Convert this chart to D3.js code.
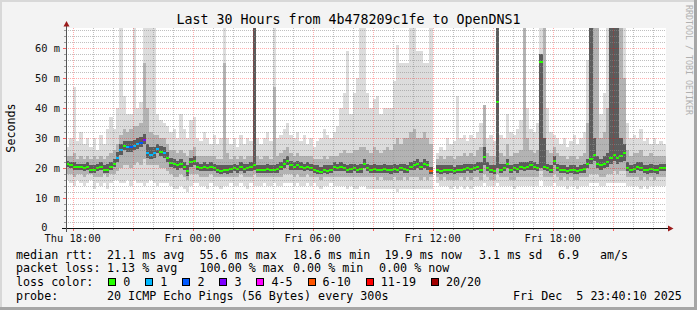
<!DOCTYPE html>
<html>
<head>
<meta charset="utf-8">
<script src="https://cdn.jsdelivr.net/npm/d3@7"></script>
<style>
body{margin:0;background:#f3f3f3}
svg{display:block}
text{font-family:"DejaVu Sans Mono",monospace;white-space:pre}
</style>
</head>
<body>
<script>
// 10 minute steps from Thu 17:40:10 to Fri 23:40:10 (ms values)
var med=[
21.5,21.0,20.5,20.5,20.5,20.0,20.5,19.5,19.3,20.0, 20.5,19.5,19.3,20.5,21.5,23.5,26.0,27.5,27.0,27.0,
27.5,28.0,28.5,29.5,25.0,24.5,25.0,26.5,25.5,25.0, 23.5,21.7,21.5,21.0,21.5,20.5,19.0,22.0,22.5,20.5,
20.0,20.4,20.0,20.4,20.0,19.3,19.0,19.5,19.3,19.7, 20.0,19.8,20.4,19.8,20.0,20.4,21.0,19.5,19.5,19.5,
19.8,19.5,19.5,19.8,20.5,21.5,22.5,21.0,20.5,21.0, 20.5,20.0,20.5,20.0,19.5,19.0,18.8,19.5,19.0,19.5,
20.4,20.0,20.4,20.0,19.5,19.8,20.0,19.5,19.8,21.5, 20.0,19.5,19.8,19.5,19.5,19.8,19.5,19.3,19.8,19.5,
20.0,19.8,19.5,20.5,21.0,21.5,20.5,21.5,21.0,19.0, null,19.5,19.0,19.5,19.3,19.5,19.0,19.5,19.5,19.8,
20.0,19.8,20.0,20.5,19.5,23.8,20.0,19.5,19.0,42.0, 19.5,20.0,21.5,19.5,20.0,19.8,20.5,20.0,20.5,21.0,
20.5,20.0,55.4,20.5,20.0,19.5,22.5,20.0,19.5,19.3, 19.0,19.5,19.3,19.0,19.5,19.8,21.5,23.0,24.3,21.5,
21.0,21.5,22.0,23.5,24.5,23.5,24.0,25.0,20.0,19.5, 19.8,20.5,20.0,19.5,19.3,19.8,19.5,19.3,20.0,20.0];
// lost pings out of 20 per step
var loss=[
0,0,0,0,0,0,0,0,0,0, 0,0,0,0,0,1,1,0,1,2,
1,1,2,3,1,1,1,1,0,1, 0,0,0,0,0,0,0,0,0,0,
0,0,0,0,0,0,0,0,0,0, 0,0,0,0,0,0,0,0,0,0,
0,0,0,0,0,0,0,0,0,0, 0,0,0,0,0,0,0,0,0,0,
0,0,0,0,0,0,0,0,0,0, 0,0,0,0,0,0,0,0,0,0,
0,0,0,0,0,0,0,0,0,7, null,0,0,0,0,0,0,0,0,0,
0,0,0,0,0,0,0,0,0,0, 0,0,0,0,0,0,0,0,0,0,
0,0,0,0,0,0,0,0,0,0, 0,0,0,0,0,0,0,0,0,0,
0,0,0,0,0,0,0,0,0,0, 0,0,0,0,0,0,0,0,0,0];
// smoke: min / max of the pings
var lo=[
16,15,14,16,15,14,15,16,13,15, 14,15,13,15,16,16,15,15,16,14,
16,15,15,14,15,16,15,14,15,15, 15,14,13,13,14,13,12,14,15,15,
14,14,13,15,14,14,13,14,14,15, 14,14,15,14,13,15,14,14,14,15,
14,14,15,14,14,15,15,15,14,15, 14,14,15,14,15,14,13,14,14,15,
14,14,14,14,13,14,13,13,14,14, 13,13,13,13,13,13,13,13,13,12,
13,13,13,13,13,13,13,13,13,13, null,15,14,14,14,13,14,13,14,13,
14,13,14,14,14,15,14,14,14,15, 14,14,14,14,13,14,14,14,14,14,
14,14,16,14,14,14,15,14,14,14, 13,14,14,13,14,14,14,15,15,15,
14,14,15,15,15,15,15,15,14,14, 14,14,13,14,13,14,14,14,14,14];
var hi=[
27,30,47,29,32,28,30,27,30,26, 31,28,33,37,33,40,67,44,38,38,
67,40,42,67,67,67,67,38,36,35, 34,32,33,30,38,33,30,36,37,30,
29,32,30,28,31,28,30,67,30,28, 30,27,31,28,30,29,67,30,28,30,
32,29,67,30,31,33,35,31,30,32, 29,31,28,30,27,29,30,33,31,30,
32,34,40,45,59,38,45,50,67,67, 45,40,43,44,38,40,40,40,49,61,
55,55,55,67,67,59,59,55,55,67, null,25,27,26,30,28,29,44,30,31,
29,31,30,32,35,41,30,31,29,67, 31,30,38,32,31,33,36,67,40,33,
32,35,67,67,40,32,31,30,28,30, 27,29,31,28,30,32,56,67,67,67,
38,45,67,67,67,67,67,67,35,30, 31,30,33,29,30,28,30,28,29,28];
// smoke: middle band
var lo2=[
18,18,17,18,18,17,18,18,17,17, 17,18,17,18,18,19,20,21,21,20,
21,22,21,23,21,21,21,21,20,20, 19,18,17,17,18,17,16,18,18,18,
17,17,17,18,17,17,17,17,17,17, 17,17,18,17,17,17,18,17,17,17,
17,17,17,17,17,18,18,18,17,18, 17,17,18,17,17,17,16,17,17,17,
17,17,17,17,17,17,17,17,17,17, 17,17,17,16,17,16,16,16,17,16,
16,17,16,17,17,17,16,17,16,17, null,17,16,17,16,16,16,16,17,16,
17,16,17,17,16,18,17,16,16,18, 17,17,17,16,16,17,17,17,17,17,
17,17,19,17,17,17,18,17,16,17, 16,17,16,16,17,17,17,18,18,18,
17,17,18,18,19,18,19,19,17,17, 17,17,16,17,16,17,16,17,17,17];
var hi2=[
24,24,25,23,24,23,24,23,24,23, 24,23,24,25,26,28,31,33,32,33,
34,34,35,55,40,32,31,31,30,30, 28,26,26,25,26,25,24,26,27,24,
24,24,24,24,24,23,23,55,25,23, 24,23,24,23,24,24,67,24,23,24,
24,23,47,24,25,26,27,25,24,25, 24,24,24,24,23,23,23,24,23,24,
24,24,25,26,25,25,26,26,27,27, 26,25,27,26,25,26,27,26,28,30,
28,30,30,32,33,30,30,32,30,28, null,23,24,23,24,24,23,24,24,25,
24,25,24,26,27,41,25,24,24,67, 25,24,28,24,25,25,26,67,30,26,
25,26,58,67,26,25,27,25,24,24, 23,24,24,23,24,25,35,67,67,67,
30,32,40,67,67,67,67,50,26,24, 25,25,26,24,24,25,24,24,24,24];
// smoke: inner band around the median
var lo3=[
20.5,20,19.5,19.5,19.5,19,19.5,18.5,18.5,19, 19.5,18.5,18.5,19.5,20.5,22,24.5,26,25.5,25.5,
26,26.5,27,28,23.5,23,23.5,25,24,23.5, 22,20.5,20,19.5,20,19.5,17.5,20.5,21,19.5,
19,19,19,19,19,18.5,18,18.5,18,18.5, 19,18.5,19,18.5,19,19,19.5,18.5,18.5,18.5,
18.5,18.5,18.5,18.5,19.5,20,21,19.5,19.5,19.5, 19.5,19,19.5,19,18.5,18,18,18.5,18,18.5,
19,19,19,19,18.5,18.5,19,18.5,18.5,20, 19,18.5,18.5,18.5,18.5,18.5,18.5,18,18.5,18.5,
19,18.5,18.5,19.5,19.5,20,19.5,20,19.5,18, null,18.5,18,18.5,18,18.5,18,18.5,18.5,18.5,
19,18.5,19,19.5,18.5,21,19,18.5,18,20, 18.5,19,20,18.5,19,18.5,19.5,19,19.5,19.5,
19.5,19,20,19.5,19,18.5,21,19,18.5,18.5, 18,18.5,18,18,18.5,18.5,20,21.5,22.5,20,
19.5,20,20.5,21.5,22.5,21.5,22,22.5,19,18.5, 18.5,19.5,19,18.5,18,18.5,18.5,18,19,19];
var hi3=[
22.5,22,22,21.5,21.5,21.5,22,21,21,21.5, 22,21,21.5,22,23,25.5,28,29,29,29,
29.5,30,30.5,31.5,28,27,27,28,27.5,27, 25.5,23.5,23,22.5,23,22,21,23.5,24,22,
21.5,22,21.5,22,21.5,21,21,21,21,21, 21.5,21,22,21.5,21.5,22,67,21,21,21,
21.5,21,21,21.5,22,23,24,22.5,22,22.5, 22,21.5,22,21.5,21,21,20.5,21,21,21,
22,21.5,22,21.5,21,21.5,21.5,21,21.5,23, 21.5,21,21.5,21,21,21.5,21,21,21.5,21,
21.5,21.5,21,22,22.5,23,22,23,22.5,20.5, null,21,21,21,21,21,20.5,21,21,21.5,
21.5,21.5,21.5,22,22,27,22,21,21,67, 21.5,21.5,23,21,21.5,21.5,22,22,22,22.5,
22,21.5,58,30,21.5,21,24,21.5,21,21, 20.5,21,21,20.5,21,21.5,23,67,30,24,
23,24,25,67,67,67,30,28,22,21, 21.5,22,22,21,21,21.5,21,21,21.5,21.5];

var yTicks=[0,10,20,30,40,50,60];
var yTickLabels=["0","10 m","20 m","30 m","40 m","50 m","60 m"];
var lossLabels=["0","1","2","3","4-5","6-10","11-19","20/20"];
var lossColors=["#26ff00","#00b8ff","#0059ff","#7e00ff","#ff00ff","#ff5500","#ff0000","#a10000"];
var legendRows=[
  [[16,"median rtt:"],[107,"21.1 ms avg"],[199.5,"55.6 ms max"],[293,"18.6 ms min"],[384.5,"19.9 ms now"],[479,"3.1 ms sd"],[558,"6.9"],[600,"am/s"]],
  [[16,"packet loss:"],[107,"1.13 % avg"],[199.5,"100.00 % max"],[293,"0.00 % min"],[379,"0.00 % now"]],
  [[16,"loss color:"]],
  [[16,"probe:"],[107,"20 ICMP Echo Pings (56 Bytes) every 300s"],[513,"Fri Dec  5 23:40:10 2025"]]
];

var W=697,H=310;
var t0=new Date(2025,11,4,17,40,10), t1=new Date(2025,11,5,23,40,10);
var stepMs=600000;
var x=d3.scaleTime().domain([t0,t1]).range([66,666]);
var y=d3.scaleLinear().domain([0,200/3]).range([228,28]).clamp(true);
function tx(i){return x(new Date(+t0+i*stepMs));}
function lossColor(n){
    if(n<=3) return lossColors[n];
    if(n<=5) return lossColors[4];
    if(n<=10) return lossColors[5];
    if(n<=19) return lossColors[6];
    return lossColors[7];
}

var svg=d3.select("body").append("svg").attr("width",W).attr("height",H);
// frame
svg.append("rect").attr("width",W).attr("height",H).attr("fill","#f3f3f3");
svg.append("rect").attr("x",0).attr("y",0).attr("width",W).attr("height",2).attr("fill","#d8d8d8");
svg.append("rect").attr("x",0).attr("y",0).attr("width",2).attr("height",H).attr("fill","#d8d8d8");
svg.append("rect").attr("x",0).attr("y",H-3).attr("width",W).attr("height",3).attr("fill","#a6a6a6");
svg.append("rect").attr("x",W-3).attr("y",0).attr("width",3).attr("height",H).attr("fill","#a6a6a6");

// plot background
svg.append("rect").attr("x",66).attr("y",28).attr("width",600).attr("height",200).attr("fill","#ffffff");

var idx=d3.range(med.length).filter(function(i){return med[i]!==null;});
var bands=[
    {lo:lo,hi:hi,color:"#dcdcdc"},
    {lo:lo2,hi:hi2,color:"#b3b3b3"},
    {lo:lo3,hi:hi3,color:"#5c5c5c"}
];
var smoke=svg.append("g").attr("shape-rendering","crispEdges");
bands.forEach(function(b){
    smoke.append("g").selectAll("rect")
        .data(idx)
        .enter()
        .append("rect")
        .attr("x",function(i){return tx(i);})
        .attr("width",function(i){return tx(i+1)-tx(i);})
        .attr("y",function(i){return y(b.hi[i]);})
        .attr("height",function(i){return y(b.lo[i])-y(b.hi[i]);})
        .attr("fill",b.color);
});
// median markers coloured by loss
smoke.append("g").selectAll("rect")
    .data(idx)
    .enter()
    .append("rect")
    .attr("x",function(i){return tx(i);})
    .attr("width",function(i){return tx(i+1)-tx(i);})
    .attr("y",function(i){return Math.round(y(med[i]))-1;})
    .attr("height",2)
    .attr("fill",function(i){return lossColor(loss[i]);});

// grid
var grid=svg.append("g").attr("shape-rendering","crispEdges");
var minorY=d3.range(2,67,2).filter(function(v){return v%10!==0;});
grid.selectAll("line.hmin").data(minorY).enter().append("line")
    .attr("x1",66).attr("x2",666)
    .attr("y1",function(v){return Math.round(y(v))+0.5;}).attr("y2",function(v){return Math.round(y(v))+0.5;})
    .attr("stroke","rgba(140,140,140,0.55)").attr("stroke-dasharray","1,1");
var hours=d3.timeHour.range(t0,t1);
grid.selectAll("line.vmin").data(hours.filter(function(d){return d.getHours()%3!==0;})).enter().append("line")
    .attr("x1",function(d){return Math.round(x(d))+0.5;}).attr("x2",function(d){return Math.round(x(d))+0.5;})
    .attr("y1",28).attr("y2",228)
    .attr("stroke","rgba(140,140,140,0.55)").attr("stroke-dasharray","1,1");
grid.selectAll("line.hmaj").data(yTicks.slice(1)).enter().append("line")
    .attr("x1",66).attr("x2",666)
    .attr("y1",function(v){return Math.round(y(v))+0.5;}).attr("y2",function(v){return Math.round(y(v))+0.5;})
    .attr("stroke","rgba(255,0,0,0.32)").attr("stroke-dasharray","1,1");
var majorX=hours.filter(function(d){return d.getHours()%3===0;});
grid.selectAll("line.vmaj").data(majorX).enter().append("line")
    .attr("x1",function(d){return Math.round(x(d))+0.5;}).attr("x2",function(d){return Math.round(x(d))+0.5;})
    .attr("y1",28).attr("y2",228)
    .attr("stroke","rgba(255,0,0,0.32)").attr("stroke-dasharray","1,1");

// tick marks on axes
grid.selectAll("line.xt").data(hours).enter().append("line")
    .attr("x1",function(d){return Math.round(x(d))+0.5;}).attr("x2",function(d){return Math.round(x(d))+0.5;})
    .attr("y1",228).attr("y2",function(d){return d.getHours()%3===0?231:230;})
    .attr("stroke",function(d){return d.getHours()%3===0?"rgba(255,0,0,0.6)":"rgba(120,120,120,0.7)";});
grid.selectAll("line.yt").data(d3.range(0,67,2)).enter().append("line")
    .attr("x1",function(v){return v%10===0?63:64;}).attr("x2",66)
    .attr("y1",function(v){return Math.round(y(v))+0.5;}).attr("y2",function(v){return Math.round(y(v))+0.5;})
    .attr("stroke",function(v){return v%10===0?"rgba(255,0,0,0.6)":"rgba(120,120,120,0.7)";});

// axes with arrows
grid.append("line").attr("x1",62).attr("x2",669).attr("y1",228.5).attr("y2",228.5).attr("stroke","#111");
grid.append("line").attr("x1",66.5).attr("x2",66.5).attr("y1",232).attr("y2",25).attr("stroke","#555");
svg.append("path").attr("d","M63.5,26.5L69.5,26.5L66.5,21Z").attr("fill","#9b1b1b");
svg.append("path").attr("d","M668,225.5L668,231.5L673.5,228.5Z").attr("fill","#9b1b1b");

// axis labels (labels without a unit keep the unit's room on the right)
svg.selectAll("text.yl").data(yTicks).enter().append("text")
    .attr("x",function(v,i){return yTickLabels[i].indexOf(" ")<0?47.5:60;})
    .attr("y",function(v){return v===0?y(v)+2.6:y(v)+3.6;})
    .attr("text-anchor","end").attr("font-size","10.4px").attr("fill","#111")
    .text(function(v,i){return yTickLabels[i];});
var fmt=d3.timeFormat("%a %H:%M");
svg.selectAll("text.xl").data(hours.filter(function(d){return d.getHours()%6===0;})).enter().append("text")
    .attr("x",function(d){return x(d);}).attr("y",241.5)
    .attr("text-anchor","middle").attr("font-size","10.4px").attr("fill","#111")
    .text(function(d){return fmt(d);});

// title, vertical labels
svg.append("text").attr("x",348.5).attr("y",24).attr("text-anchor","middle")
    .attr("font-size","13.3px").attr("fill","#000")
    .text("Last 30 Hours from 4b478209c1fe to OpenDNS1");
svg.append("text").attr("transform","translate(15,128) rotate(-90)").attr("text-anchor","middle")
    .attr("font-size","11.7px").attr("fill","#000").text("Seconds");
svg.append("text").attr("transform","translate(685.5,5) rotate(90)").attr("text-anchor","start")
    .attr("font-size","8.3px").attr("fill","#b0b0b0").text("RRDTOOL / TOBI OETIKER");

// legend
var rowY=[258.5,272.2,285.9,299.6];
legendRows.forEach(function(row,r){
    row.forEach(function(seg){
        svg.append("text").attr("x",seg[0]).attr("y",rowY[r])
            .attr("font-size","11.7px").attr("fill","#000").text(seg[1]);
    });
});
var bx=108.3;
lossLabels.forEach(function(lab,k){
    svg.append("rect").attr("x",Math.round(bx)+0.5).attr("y",278.5).attr("width",7).attr("height",7)
        .attr("fill",lossColors[k]).attr("stroke","#000").attr("stroke-width",1);
    svg.append("text").attr("x",bx+15).attr("y",rowY[2]).attr("font-size","11.7px").attr("fill","#000").text(lab);
    bx=bx+15+lab.length*7.04+15;
});
</script>
</body>
</html>
